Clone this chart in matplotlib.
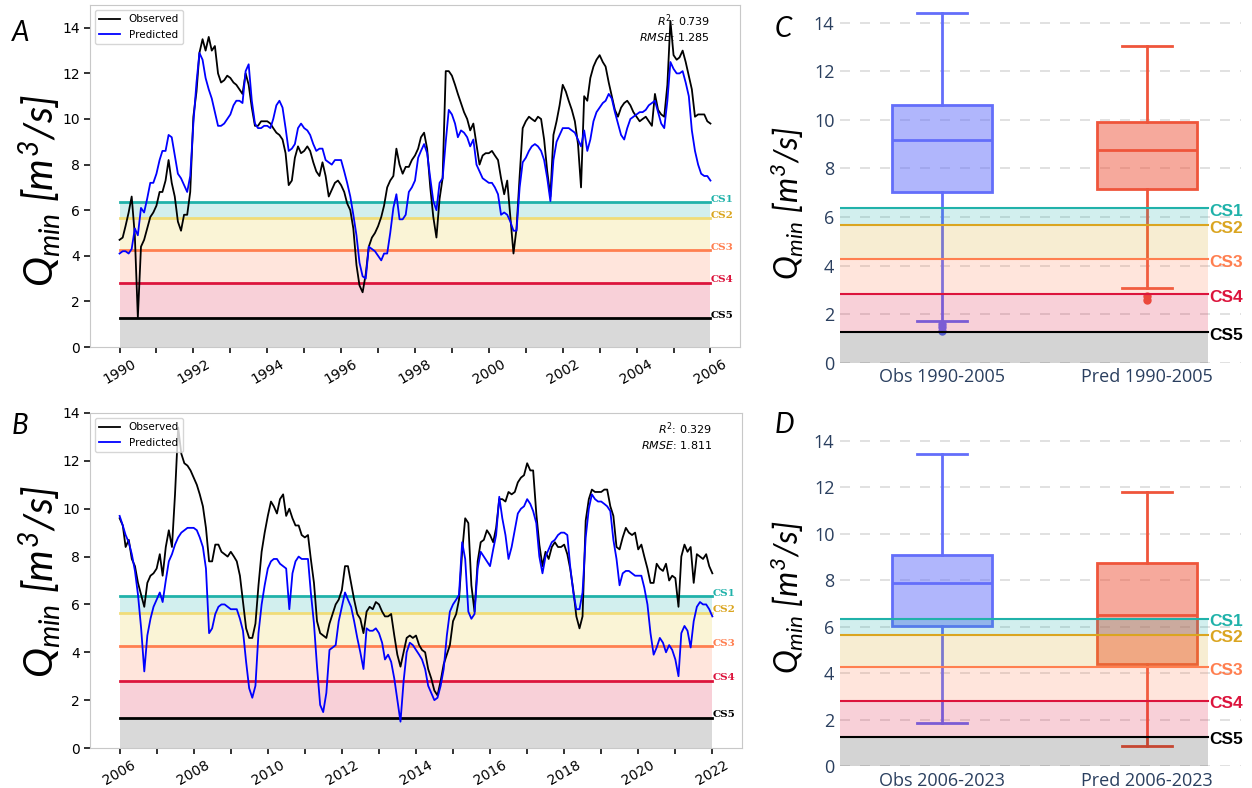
import matplotlib
matplotlib.use('Agg')
import matplotlib.pyplot as plt
import matplotlib.dates as mdates
from matplotlib.colors import to_rgba
import pandas as pd

plt.rcParams['mathtext.fontset'] = 'custom'
plt.rcParams['mathtext.it'] = 'Lato:italic'
plt.rcParams['mathtext.rm'] = 'Lato:italic'
plt.rcParams['mathtext.bf'] = 'Lato:bold'

# critical streamflow thresholds CS1..CS5 [m3/s]
cs_names = ['CS1', 'CS2', 'CS3', 'CS4', 'CS5']
cs_values = [6.35, 5.65, 4.25, 2.82, 1.27]

# monthly Qmin, Jan 1990 - Jan 2006
obs_a = [4.7, 4.8, 5.3, 5.9, 6.6, 4.9, 1.3, 4.4, 4.7, 5.2, 5.7, 5.9,
         6.2, 6.8, 6.8, 7.3, 8.2, 7.2, 6.6, 5.5, 5.1, 5.8, 5.8, 6.8,
         10.1, 11.2, 12.9, 13.5, 13.0, 13.6, 13.0, 13.2, 12.0, 11.6, 11.7, 11.9,
         11.8, 11.6, 11.5, 11.3, 11.1, 12.0, 11.5, 10.5, 9.7, 9.7, 9.9, 9.9,
         9.9, 9.8, 9.6, 9.4, 9.3, 9.1, 8.5, 7.1, 7.3, 8.3, 8.8, 8.5,
         8.6, 8.8, 8.6, 8.1, 7.7, 7.5, 8.1, 7.5, 6.6, 6.9, 7.2, 7.3,
         7.1, 6.8, 6.3, 6.0, 5.2, 3.6, 2.7, 2.4, 3.2, 4.4, 4.8, 5.0,
         5.3, 5.7, 6.2, 7.0, 7.3, 7.5, 8.7, 8.0, 7.6, 7.9, 7.9, 8.2,
         8.4, 8.7, 9.2, 9.4, 8.7, 7.0, 5.7, 4.8, 6.5, 7.4, 12.1, 12.1,
         11.9, 11.5, 11.1, 10.7, 10.3, 10.0, 9.5, 9.8, 8.9, 8.0, 8.4, 8.5,
         8.5, 8.6, 8.4, 8.2, 7.4, 6.7, 7.3, 5.7, 4.1, 5.2, 7.5, 9.6,
         9.9, 10.1, 10.0, 9.9, 10.1, 10.0, 9.1, 7.7, 6.6, 9.3, 9.9, 10.6,
         11.5, 11.2, 10.8, 10.4, 9.9, 8.9, 7.0, 11.0, 10.8, 11.8, 12.3, 12.6,
         12.8, 12.5, 12.3, 11.6, 11.0, 10.4, 10.1, 10.5, 10.7, 10.8, 10.6, 10.3,
         10.1, 9.9, 10.0, 10.1, 9.9, 9.7, 11.1, 10.4, 10.2, 10.1, 11.5, 14.3,
         12.8, 12.6, 12.7, 13.0, 12.5, 11.9, 11.3, 10.1, 10.2, 10.2, 10.2, 9.9,
         9.8]
pred_a = [4.1, 4.2, 4.2, 4.1, 4.3, 5.2, 4.9, 6.1, 5.9, 6.5, 7.2, 7.2,
          7.6, 8.2, 8.6, 8.6, 9.3, 9.2, 8.4, 7.6, 7.4, 7.1, 6.8, 7.5,
          9.8, 11.6, 12.9, 12.6, 11.8, 11.3, 10.9, 10.3, 9.7, 9.7, 9.8, 10.0,
          10.2, 10.6, 10.8, 10.8, 10.7, 12.1, 12.4, 10.8, 9.8, 9.6, 9.6, 9.7,
          9.7, 9.6, 10.0, 10.6, 10.8, 10.5, 9.6, 8.6, 8.7, 8.9, 9.6, 9.8,
          9.6, 9.5, 9.3, 8.9, 8.6, 8.7, 8.7, 8.2, 8.1, 8.0, 8.2, 8.2,
          8.2, 7.7, 7.2, 6.6, 5.8, 4.9, 3.7, 3.1, 3.0, 4.4, 4.3, 4.2,
          4.0, 3.8, 4.1, 4.1, 5.0, 6.1, 6.7, 5.6, 5.6, 5.8, 6.8, 7.0,
          7.3, 8.3, 8.6, 8.9, 8.5, 7.4, 6.4, 6.0, 7.2, 7.4, 9.0, 10.4,
          10.2, 9.8, 9.2, 9.5, 9.4, 9.2, 8.8, 9.1, 8.0, 7.7, 7.4, 7.3,
          7.2, 7.2, 7.0, 6.7, 5.8, 5.9, 5.8, 5.5, 5.1, 5.1, 7.0, 8.1,
          8.3, 8.6, 8.8, 8.9, 8.8, 8.6, 8.2, 7.4, 6.4, 8.2, 9.0, 9.3,
          9.6, 9.6, 9.6, 9.5, 9.4, 9.1, 8.8, 9.5, 8.6, 9.1, 9.9, 10.3,
          10.5, 10.7, 10.8, 11.1, 10.9, 10.3, 9.8, 9.3, 9.1, 9.6, 10.0, 10.1,
          10.2, 10.3, 10.3, 10.4, 10.6, 10.7, 10.8, 10.3, 9.8, 9.6, 10.8, 12.5,
          12.2, 12.0, 12.0, 12.1, 11.6, 11.0, 9.5, 8.6, 8.0, 7.6, 7.5, 7.5,
          7.3]

# monthly Qmin, Jan 2006 - Jan 2022
obs_b = [9.6, 9.3, 8.4, 8.7, 7.9, 7.6, 6.9, 6.4, 5.9, 6.9, 7.2, 7.3,
         7.5, 8.1, 7.2, 8.4, 9.1, 8.4, 10.6, 13.4, 12.3, 11.9, 11.8, 11.6,
         11.3, 11.0, 10.6, 10.1, 9.2, 7.8, 7.8, 8.5, 8.5, 8.2, 8.1, 8.0,
         8.2, 8.0, 7.8, 7.2, 6.1, 5.0, 4.6, 4.6, 5.2, 6.8, 8.2, 9.0,
         9.7, 10.3, 10.1, 9.8, 10.4, 10.6, 9.7, 10.0, 9.6, 9.3, 9.3, 8.9,
         8.8, 8.9, 7.9, 6.9, 5.3, 4.8, 4.7, 4.6, 5.2, 5.6, 6.0, 6.2,
         6.6, 7.6, 7.6, 6.9, 6.2, 5.6, 5.4, 4.8, 5.7, 5.9, 5.8, 6.1,
         6.0, 5.7, 5.5, 5.5, 5.6, 4.7, 3.9, 3.4, 4.0, 4.6, 4.7, 4.6,
         4.7, 4.3, 4.1, 4.0, 3.3, 2.9, 2.4, 2.2, 2.8, 3.5, 3.9, 4.3,
         5.3, 5.6, 6.2, 8.2, 9.6, 9.4, 6.8, 5.7, 7.8, 8.6, 8.7, 9.1,
         8.9, 8.6, 9.2, 10.4, 10.4, 10.3, 10.7, 10.6, 10.7, 11.1, 11.3, 11.4,
         11.9, 11.6, 11.6, 9.8, 8.5, 7.6, 8.2, 7.9, 8.4, 8.6, 8.4, 8.4,
         8.5, 8.1, 7.5, 6.6, 5.5, 5.0, 5.5, 9.5, 10.4, 10.8, 10.7, 10.7,
         10.7, 10.8, 10.8, 10.1, 9.7, 8.4, 8.3, 8.8, 9.2, 9.0, 8.9, 9.0,
         8.3, 8.5, 8.0, 7.5, 6.9, 6.9, 7.7, 7.5, 7.4, 7.7, 7.0, 7.2,
         7.1, 5.9, 8.0, 8.5, 8.2, 8.4, 6.9, 8.1, 8.0, 7.9, 8.1, 7.6,
         7.3]
pred_b = [9.7, 9.3, 8.9, 8.6, 8.1, 7.4, 6.4, 5.0, 3.2, 4.7, 5.4, 5.9,
          6.2, 6.5, 6.1, 7.0, 7.8, 8.1, 8.5, 8.8, 9.0, 9.1, 9.2, 9.2,
          9.2, 9.1, 8.8, 8.4, 7.5, 4.8, 5.0, 5.6, 5.9, 6.0, 6.0, 5.9,
          5.8, 5.8, 5.8, 5.4, 4.9, 3.6, 2.5, 2.1, 2.6, 4.8, 6.0, 6.8,
          7.5, 7.8, 7.9, 7.9, 7.7, 7.6, 7.5, 5.8, 7.3, 7.8, 8.0, 7.9,
          7.9, 7.9, 6.5, 5.2, 3.4, 1.8, 1.5, 2.3, 4.1, 4.2, 4.3, 5.3,
          5.9, 6.5, 6.2, 5.9, 5.3, 4.6, 4.0, 3.3, 5.0, 4.9, 4.9, 5.0,
          4.8, 4.4, 3.7, 3.9, 3.6, 2.9, 2.0, 1.1, 2.8, 4.0, 4.4, 4.3,
          4.1, 3.9, 3.7, 3.3, 2.6, 2.3, 2.0, 2.1, 2.6, 3.3, 4.7, 5.7,
          6.0, 6.2, 6.4, 8.6, 7.9, 5.7, 5.4, 5.6, 7.5, 8.2, 8.0, 7.8,
          7.6, 8.3, 8.9, 10.5, 9.6, 8.9, 7.9, 8.4, 9.1, 9.8, 10.0, 10.1,
          10.4, 10.2, 9.9, 9.4, 8.0, 7.3, 8.0, 8.3, 8.6, 8.7, 8.9, 9.0,
          9.0, 8.9, 7.6, 6.5, 5.8, 5.8, 6.5, 8.8, 10.0, 10.6, 10.4, 10.3,
          10.3, 10.2, 10.1, 9.9, 8.7, 7.9, 6.8, 7.3, 7.4, 7.4, 7.3, 7.2,
          7.2, 7.2, 6.7, 6.0, 4.8, 3.9, 4.2, 4.6, 4.4, 4.0, 4.3, 4.1,
          3.7, 3.0, 4.8, 5.1, 4.9, 4.2, 5.3, 5.9, 6.1, 6.0, 6.0, 5.8,
          5.5]

# box plot summaries (whislo, q1, med, q3, whishi, fliers)
box_c_labels = ['Obs 1990-2005', 'Pred 1990-2005']
box_c_obs = [1.72, 7.04, 9.16, 10.61, 14.38, [1.3, 1.45, 1.6]]
box_c_pred = [3.09, 7.14, 8.74, 9.9, 13.05, [2.6, 2.75]]
box_d_labels = ['Obs 2006-2023', 'Pred 2006-2023']
box_d_obs = [1.87, 6.03, 7.9, 9.08, 13.44, []]
box_d_pred = [0.86, 4.39, 6.49, 8.73, 11.79, []]

ts_line_colors = ['lightseagreen', '#f0dc78', 'coral', 'crimson', 'black']
ts_band_alpha = [0.2, 0.3, 0.2, 0.2]
bx_line_colors = ['lightseagreen', 'goldenrod', 'coral', 'crimson', 'black']
cs_text_colors = ['lightseagreen', 'goldenrod', 'coral', 'crimson', 'black']
qlabel = r'$Q_{min}\ [m^3/s]$'


def ts_panel(ax, dates, obs, pred, r2, rmse, ytop):
    x = [dates[0], dates[-1]]
    ax.fill_between(x, 0, cs_values[4], color='black', alpha=0.15, lw=0, zorder=1)
    for i in range(4):
        ax.fill_between(x, cs_values[i + 1], cs_values[i], color=ts_line_colors[i],
                        alpha=ts_band_alpha[i], lw=0, zorder=1)
    for c, col, tcol, name in zip(cs_values, ts_line_colors, cs_text_colors, cs_names):
        ax.plot(x, [c, c], color=col, lw=2, zorder=2)
        ax.text(dates[-1], c + 0.12, name, color=tcol, fontsize=7.5, family='DejaVu Serif',
                fontweight='bold', ha='left', va='center', clip_on=False)
    ax.plot(dates, obs, color='black', lw=1.3, label='Observed', zorder=3)
    ax.plot(dates, pred, color='blue', lw=1.3, label='Predicted', zorder=3)
    ax.set_ylim(0, ytop)
    ax.set_yticks(range(0, 15, 2))
    ax.xaxis.set_major_locator(mdates.YearLocator(2))
    ax.xaxis.set_minor_locator(mdates.YearLocator(1))
    ax.xaxis.set_major_formatter(mdates.DateFormatter('%Y'))
    ax.tick_params(which='both', length=4, width=1.3, labelsize=10, color='#222222')
    ax.tick_params(axis='x', pad=3)
    for lab in ax.get_xticklabels():
        lab.set_rotation(30)
    for sp in ax.spines.values():
        sp.set_color('#c8c8c8')
    ax.legend(loc='upper left', fontsize=7.5)
    ax.text(0.954, 0.977, '$R^2$: %s\n$RMSE$: %s' % (r2, rmse), transform=ax.transAxes,
            ha='right', va='top', fontsize=8, math_fontfamily='dejavusans')


def box_panel(ax, obs, pred, labels, ytop):
    ax.set_xlim(-0.5, 1.46)
    ax.set_ylim(0, ytop)
    for pos, st, col in zip([0, 1], [obs, pred], ['#636efa', '#ef553b']):
        stats = dict(whislo=st[0], q1=st[1], med=st[2], q3=st[3], whishi=st[4], fliers=st[5])
        ax.bxp([stats], positions=[pos], widths=0.49, capwidths=0.245, patch_artist=True,
               manage_ticks=False, zorder=2,
               boxprops=dict(facecolor=to_rgba(col, 0.5), edgecolor=col, lw=2),
               whiskerprops=dict(color=col, lw=2), capprops=dict(color=col, lw=2),
               medianprops=dict(color=col, lw=2),
               flierprops=dict(marker='o', markerfacecolor=col, markeredgecolor=col, markersize=5))
    x = [-0.5, 1.3]
    ax.fill_between(x, 0, cs_values[4], color='black', alpha=0.17, lw=0, zorder=3)
    for i in range(4):
        ax.fill_between(x, cs_values[i + 1], cs_values[i], color=bx_line_colors[i],
                        alpha=0.2, lw=0, zorder=3)
    for c, col, tcol, name in zip(cs_values, bx_line_colors, cs_text_colors, cs_names):
        ax.plot(x, [c, c], color=col, lw=1.5, zorder=4)
        ax.text(1.305, c - 0.13, name, color=tcol, fontsize=12.5, family='Liberation Sans',
                fontweight='bold', ha='left', va='center')
    ax.set_xticks([0, 1])
    ax.set_xticklabels(labels)
    ax.set_yticks(range(0, 15, 2))
    ax.tick_params(length=0, labelsize=13, labelcolor='#2a3f5f', pad=4)
    for lab in ax.get_xticklabels() + ax.get_yticklabels():
        lab.set_family('Open Sans')
    ax.grid(axis='y', color='#dcdcdc', ls=(0, (6, 6)), lw=1.2)
    ax.set_axisbelow(True)
    for sp in ax.spines.values():
        sp.set_visible(False)


fig = plt.figure(figsize=(12.52, 7.88), dpi=100)
axA = fig.add_axes([90 / 1252, 1 - 347 / 788, 650 / 1252, 342 / 788])
axB = fig.add_axes([90 / 1252, 1 - 748 / 788, 652 / 1252, 335 / 788])
axC = fig.add_axes([840 / 1252, 1 - 362.7 / 788, 401 / 1252, 357.7 / 788])
axD = fig.add_axes([840 / 1252, 1 - 766 / 788, 401 / 1252, 328 / 788])

dates_a = pd.date_range('1990-01-01', periods=len(obs_a), freq='MS')
dates_b = pd.date_range('2006-01-01', periods=len(obs_b), freq='MS')
ts_panel(axA, dates_a, obs_a, pred_a, '0.739', '1.285', 15)
ts_panel(axB, dates_b, obs_b, pred_b, '0.329', '1.811', 14)
box_panel(axC, box_c_obs, box_c_pred, box_c_labels, 14.73)
box_panel(axD, box_d_obs, box_d_pred, box_d_labels, 14.13)

fig.text(40 / 1252, 1 - 191 / 788, qlabel, rotation=90, ha='center', va='center', fontsize=29)
fig.text(40 / 1252, 1 - 582 / 788, qlabel, rotation=90, ha='center', va='center', fontsize=29)
fig.text(787 / 1252, 1 - 203 / 788, qlabel, rotation=90, ha='center', va='center', fontsize=23)
fig.text(787 / 1252, 1 - 597 / 788, qlabel, rotation=90, ha='center', va='center', fontsize=23)

for x, y, letter in [(12, 20, 'A'), (12, 413, 'B'), (775, 16, 'C'), (775, 412, 'D')]:
    fig.text(x / 1252, 1 - y / 788, letter, ha='left', va='top', fontsize=20,
             style='italic', family='Lato')

fig.savefig('out.png', dpi=100)
